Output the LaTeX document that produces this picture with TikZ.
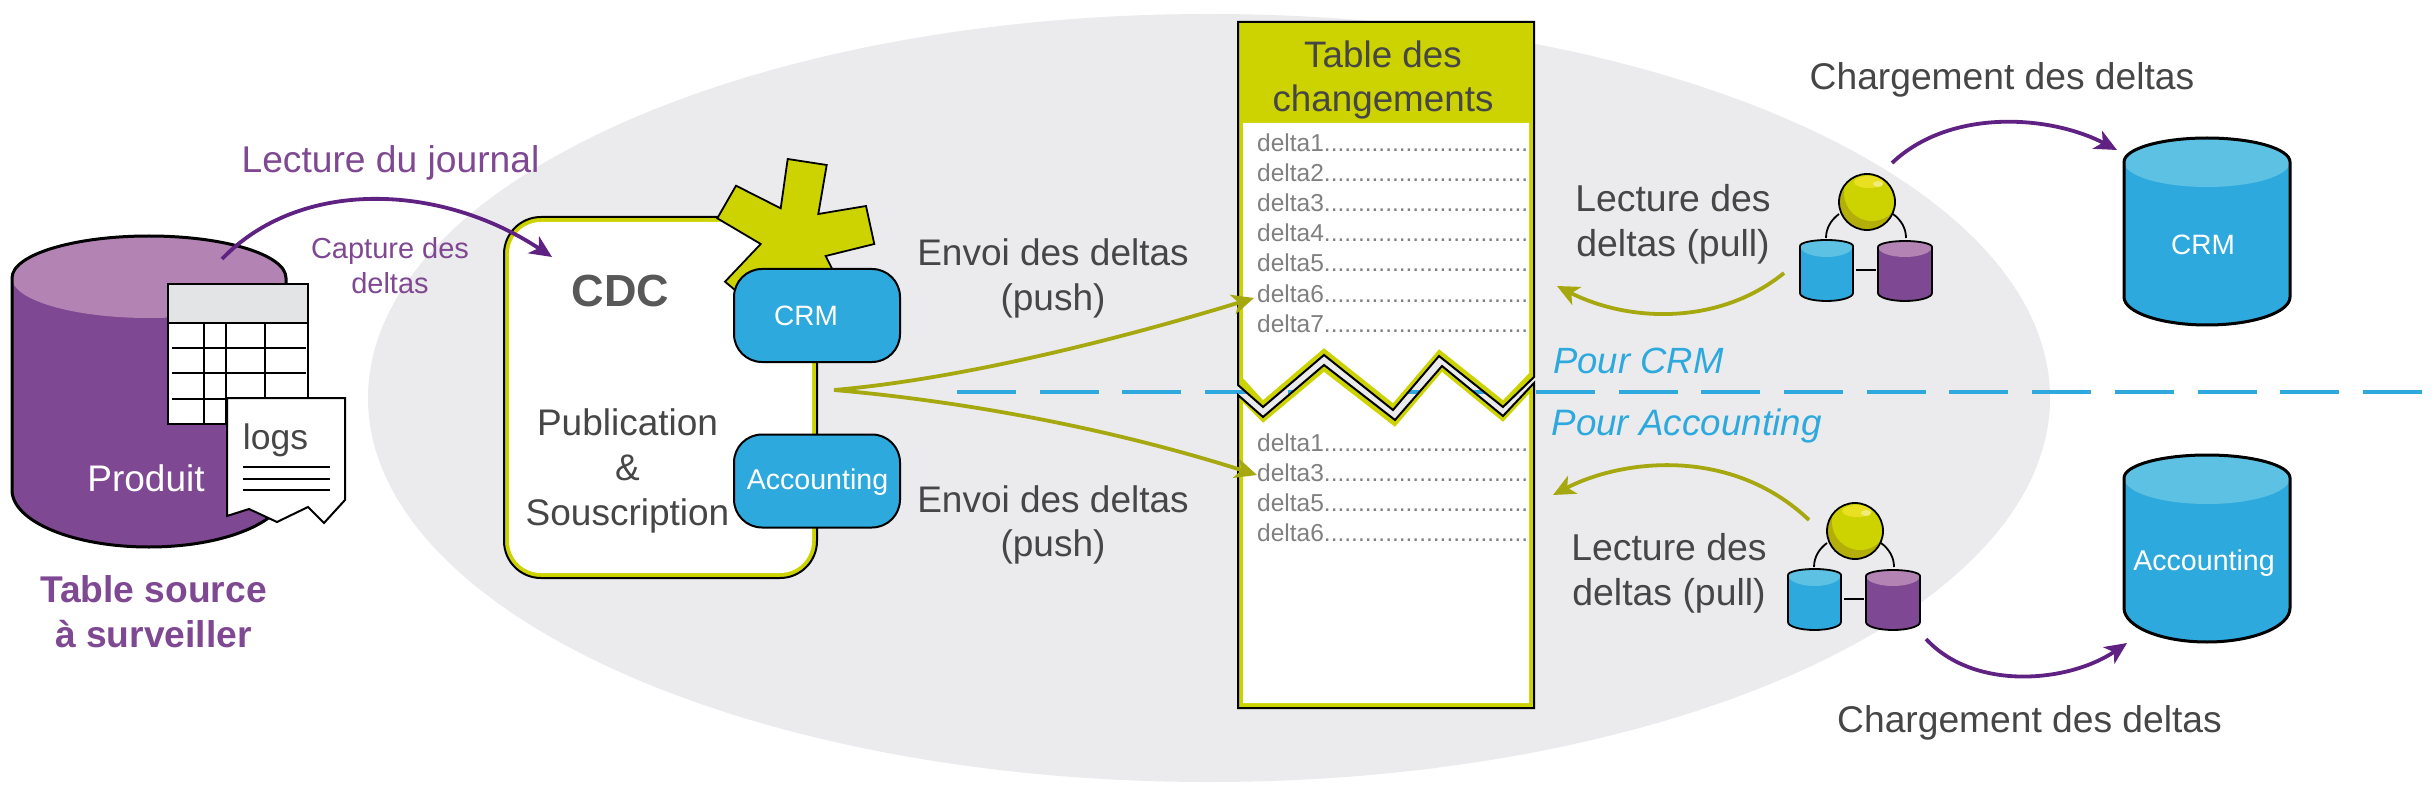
\documentclass[tikz,border=0pt]{standalone}
\usepackage{fontspec}
\setmainfont{Liberation Sans}
\usetikzlibrary{arrows.meta}
\definecolor{txt}{HTML}{464646}
\definecolor{purp}{HTML}{7F4892}
\definecolor{purpl}{HTML}{B283B3}
\definecolor{arrp}{HTML}{5F2282}
\definecolor{blu}{HTML}{2EA9DD}
\definecolor{blul}{HTML}{5CC1E2}
\definecolor{yel}{HTML}{CCD300}
\definecolor{yeld}{HTML}{B3AE0A}
\definecolor{yell}{HTML}{E8E020}
\definecolor{olive}{HTML}{A6A80F}
\definecolor{bg}{HTML}{EBEBED}
\definecolor{hdr}{HTML}{E3E4E5}
\definecolor{dlt}{HTML}{808080}
\newcommand{\fs}[1]{\fontsize{#1}{#1}\selectfont}
% cx rx top sideTop sideBottom bottom lightBottom body light
\newcommand{\cylshape}[9]{%
 \pgfmathsetmacro{\cylL}{#1-#2}\pgfmathsetmacro{\cylR}{#1+#2}
 \pgfmathsetmacro{\cylkl}{#1-0.5523*#2}\pgfmathsetmacro{\cylkr}{#1+0.5523*#2}
 \pgfmathsetmacro{\cylka}{#4-0.5523*(#4-#3)}
 \pgfmathsetmacro{\cylkb}{#5+0.5523*(#6-#5)}
 \pgfmathsetmacro{\cylkc}{#4+0.5523*(#7-#4)}
 \fill[#8] (\cylL,#4) .. controls (\cylL,\cylka) and (\cylkl,#3) .. (#1,#3) .. controls (\cylkr,#3) and (\cylR,\cylka) .. (\cylR,#4) -- (\cylR,#5) .. controls (\cylR,\cylkb) and (\cylkr,#6) .. (#1,#6) .. controls (\cylkl,#6) and (\cylL,\cylkb) .. (\cylL,#5) -- cycle;
 \fill[#9] (\cylL,#4) .. controls (\cylL,\cylka) and (\cylkl,#3) .. (#1,#3) .. controls (\cylkr,#3) and (\cylR,\cylka) .. (\cylR,#4) .. controls (\cylR,\cylkc) and (\cylkr,#7) .. (#1,#7) .. controls (\cylkl,#7) and (\cylL,\cylkc) .. (\cylL,#4) -- cycle;
 \draw[cylline] (\cylL,#4) .. controls (\cylL,\cylka) and (\cylkl,#3) .. (#1,#3) .. controls (\cylkr,#3) and (\cylR,\cylka) .. (\cylR,#4) -- (\cylR,#5) .. controls (\cylR,\cylkb) and (\cylkr,#6) .. (#1,#6) .. controls (\cylkl,#6) and (\cylL,\cylkb) .. (\cylL,#5) -- cycle;
}
\newcommand{\dbicon}[2]{%
 \begin{scope}[shift={(#1,#2)}]
  \draw[iconline] (1826,238) .. controls (1826,228) and (1831,220) .. (1839,214);
  \draw[iconline] (1906,238) .. controls (1906,228) and (1901,220) .. (1893,214);
  \draw[iconline] (1856,270) -- (1876,270);
  \tikzset{cylline/.style={draw=black,line width=1.8pt}}
  \cylshape{1826.5}{26.5}{240}{246}{293}{301}{257}{blu}{blul}
  \cylshape{1905}{27}{241}{247}{293}{301}{257}{purp}{purpl}
  \begin{scope}
   \clip (1867,202) circle[radius=28pt];
   \fill[yeld] (1867,202) circle[radius=28pt];
   \fill[yel] (1872,193) circle[radius=28pt];
   \fill[yell] (1869,182) ellipse[x radius=15pt,y radius=6pt];
   \fill[yell!60!white] (1878,184) ellipse[x radius=5pt,y radius=3pt];
  \end{scope}
  \draw[black,line width=1.8pt] (1867,202) circle[radius=28pt];
 \end{scope}
}
\tikzset{
 cylline/.style={draw=black,line width=3pt},
 iconline/.style={draw=black,line width=1.8pt},
 lbl/.style={inner sep=0pt,outer sep=0pt,anchor=base,text=txt,align=center},
 grid/.style={draw=black,line width=2pt},
 purparrow/.style={draw=arrp,line width=3.8pt,-{Stealth[length=22pt,width=20pt,inset=6pt]}},
 olivearrow/.style={draw=olive,line width=3.8pt,-{Stealth[length=22pt,width=20pt,inset=6pt]}},
 chan/.style={draw=black,line width=2pt,fill=blu,rounded corners=28pt,minimum width=166pt,minimum height=93pt,inner sep=0pt,anchor=center},
 deltatxt/.style={inner sep=0pt,anchor=base west,text=dlt},
}
\begin{document}
\begin{tikzpicture}[x=1pt,y=-1pt]
\useasboundingbox (0,0) rectangle (2436,786);
\fill[white] (0,0) rectangle (2436,786);
\fill[bg] (1209,398) ellipse[x radius=841pt,y radius=384pt];
% dashed separator
\coordinate (dashL) at (957,392);
\coordinate (dashR) at (2422,392);
\draw[blu,line width=4pt,dash pattern=on 59pt off 23.7pt] (dashL) -- (dashR);

% source cylinder
\cylshape{149}{137}{236}{278}{490}{547}{318}{purp}{purpl}
% source table
\fill[white] (168,284) rectangle (308,424);
\fill[hdr] (168,284) rectangle (308,323);
\draw[grid] (168,284) rectangle (308,424);
\draw[grid] (168,323) -- (308,323);
\foreach \x in {204,226,265} \draw[grid] (\x,323) -- (\x,424);
\foreach \y in {348,373,399} \draw[grid] (172,\y) -- (306,\y);
% logs sheet
\draw[grid,fill=white] (227,398) -- (345,398) -- (345,500) -- (324,523) -- (308,507) -- (277,522) -- (249,509) -- (227,516) -- cycle;
\foreach \y in {467,479,490} \draw[grid] (243,\y) -- (330,\y);
\node[lbl] (logs) at (275.5,449) {\fs{35.5}logs};
\node[lbl,text=white] (produit) at (146,491) {\fs{37}Produit};
\node[lbl,text=purp,font=\bfseries\fontsize{37.2}{45}\selectfont] (source) at (153.5,647.5) {Table source\\à surveiller};

% CDC box
\draw[fill=yel,draw=black,line width=2pt,rounded corners=37pt] (504,217) rectangle (817,578);
\fill[white,rounded corners=32pt] (509,222) rectangle (812,573);
\draw[fill=yel,draw=black,line width=1.8pt] (717.3,218.3) -- (736,185.7) -- (780.7,208.3) -- (787.7,159) -- (826.7,165) -- (818.3,214) -- (866,206) -- (874.3,244) -- (825.7,256) -- (832.7,270) -- (790,300) -- (735,290) -- (725,281.7) -- (760.7,244) -- cycle;
\node[chan] (crmbox) at (817,315.5) {};
\node[chan] (accbox) at (817,481) {};
\node[lbl,text=white] (crmt) at (806,326) {\fs{28}CRM};
\node[lbl,text=white] (acct) at (817.5,489) {\fs{28.6}Accounting};
\node[lbl,font=\bfseries,text=txt!90!white] (cdc) at (620.5,306) {\fs{45}CDC};
\node[lbl,font=\fontsize{37}{45}\selectfont] (pub) at (627.5,525.5) {Publication\\\&\\Souscription};

% change table
\draw[fill=yel,draw=black,line width=2pt] (1238,22) -- (1534,22) -- (1534,377) -- (1503,407) -- (1439,356) -- (1393,410) -- (1324,355) -- (1263,407) -- (1238,385) -- cycle;
\fill[white] (1243,123) -- (1529,123) -- (1529,373) -- (1503,400) -- (1439,349) -- (1393,403) -- (1324,348) -- (1263,400) -- (1243,378) -- cycle;
\draw[fill=yel,draw=black,line width=2pt] (1238,395) -- (1263,417) -- (1324,365) -- (1395,420) -- (1442,366) -- (1503,416) -- (1534,383) -- (1534,708) -- (1238,708) -- cycle;
\fill[white] (1243,403) -- (1263,423) -- (1324,372) -- (1395,427) -- (1442,372) -- (1503,422) -- (1529,394) -- (1529,703) -- (1243,703) -- cycle;
\node[lbl,font=\fontsize{36.8}{44}\selectfont] (tablechg) at (1383,112) {Table des\\changements};
\newcommand{\dotline}{..............................}
\foreach \n/\y in {1/152,2/182,3/212,4/242,5/272,6/302,7/332}
  \node[deltatxt] (du\n) at (1257,\y) {\fs{24.5}delta\n\dotline};
\foreach \n/\y in {1/451,3/481,5/511,6/541}
  \node[deltatxt] (dl\n) at (1257,\y) {\fs{24.5}delta\n\dotline};

% mini icons
\dbicon{0}{0}
\dbicon{-12}{329}

% target cylinders
\tikzset{cylline/.style={draw=black,line width=3pt}}
\cylshape{2207}{83}{138}{162}{297}{325}{187}{blu}{blul}
\cylshape{2207}{83}{455}{478}{608}{642}{504}{blu}{blul}
\node[lbl,text=white] (crmdb) at (2203,255) {\fs{28}CRM};
\node[lbl,text=white] (accdb) at (2204,570) {\fs{28.6}Accounting};

% labels
\node[lbl,text=purp] (lj) at (390.5,173) {\fs{37.2}Lecture du journal};
\node[lbl,text=purp,font=\fontsize{29}{35}\selectfont] (cap) at (390,294) {Capture des\\deltas};
\node[lbl,font=\fontsize{37}{44}\selectfont] (env1) at (1053,310) {Envoi des deltas\\(push)};
\node[lbl,font=\fontsize{37}{44}\selectfont] (env2) at (1053,556.5) {Envoi des deltas\\(push)};
\node[lbl,text=blu,font=\itshape] (pcrm) at (1638.5,373) {\fs{36.5}Pour CRM};
\node[lbl,text=blu,font=\itshape] (pacc) at (1686.5,435) {\fs{36.8}Pour Accounting};
\node[lbl,font=\fontsize{37.4}{45}\selectfont] (pull1) at (1673,257) {Lecture des\\deltas (pull)};
\node[lbl,font=\fontsize{37.4}{45}\selectfont] (pull2) at (1669,605) {Lecture des\\deltas (pull)};
\node[lbl] (chg1) at (2002,89.5) {\fs{37.2}Chargement des deltas};
\node[lbl] (chg2) at (2029.5,732) {\fs{37.2}Chargement des deltas};

% connectors
\coordinate (srcOut) at (222,259);
\coordinate (cdcIn) at (552,257);
\draw[purparrow] (srcOut) .. controls (300,178) and (440,183) .. (cdcIn);
\coordinate (fork) at (834,390);
\coordinate (tUp) at (1254,298);
\coordinate (tDown) at (1257,475);
\draw[olivearrow] (fork) .. controls (950,380) and (1100,345) .. (tUp);
\draw[olivearrow] (fork) .. controls (950,400) and (1100,425) .. (tDown);
\coordinate (iconA) at (1784,273);
\coordinate (tblA) at (1557,286);
\draw[olivearrow] (iconA) .. controls (1720,325) and (1630,323) .. (tblA);
\coordinate (iconB) at (1809,520);
\coordinate (tblB) at (1553,495);
\draw[olivearrow] (iconB) .. controls (1730,445) and (1620,460) .. (tblB);
\coordinate (iconAo) at (1892,163);
\coordinate (crmIn) at (2117,150);
\draw[purparrow] (iconAo) .. controls (1950,108) and (2050,115) .. (crmIn);
\coordinate (iconBo) at (1926,639);
\coordinate (accIn) at (2127,643);
\draw[purparrow] (iconBo) .. controls (1975,692) and (2070,682) .. (accIn);
\end{tikzpicture}
\end{document}
